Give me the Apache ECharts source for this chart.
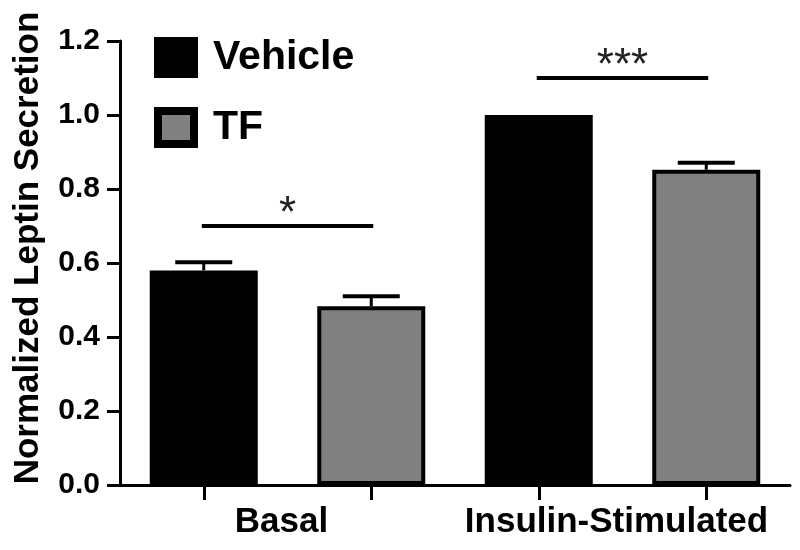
<!DOCTYPE html>
<html>
<head>
<meta charset="utf-8">
<script src="https://cdn.jsdelivr.net/npm/echarts@6/dist/echarts.min.js"></script>
<style>html,body{margin:0;padding:0;background:#fff}#c{width:800px;height:550px}</style>
</head>
<body>
<div id="c"></div>
<script>
// ---- data ----
var barCategories = ['Basal Vehicle', 'Basal TF', 'Insulin Vehicle', 'Insulin TF'];
var groupLabels = ['Basal', 'Insulin-Stimulated'];
var seriesNames = ['Vehicle', 'TF'];
var vehicleValues = [0.58, null, 1.0, null];
var tfValues = [null, 0.483, null, 0.852];
var vehicleErr = [0.022, null, 0, null];
var tfErr = [null, 0.027, null, 0.019];
var sigPairs = [[0, 1], [2, 3]];
var sigLevels = [0.70, 1.10];
var sigLabels = ['*', '***'];
var yTicks = [0, 0.2, 0.4, 0.6, 0.8, 1.0, 1.2];

var FONT = 'Liberation Sans, Arial, sans-serif';

function errData(vals, errs) {
  var out = [];
  for (var i = 0; i < vals.length; i++) {
    if (vals[i] != null && errs[i]) out.push([i, vals[i], vals[i] + errs[i]]);
  }
  return out;
}
var errorData = errData(vehicleValues, vehicleErr).concat(errData(tfValues, tfErr));
var sigData = sigPairs.map(function (p, i) { return [p[0], p[1], sigLevels[i]]; });

var chart = echarts.init(document.getElementById('c'), null, { renderer: 'canvas' });
chart.setOption({
  animation: false,
  backgroundColor: '#fff',
  grid: { left: 120, right: 10, top: 41, bottom: 65, containLabel: false },
  legend: {
    orient: 'vertical',
    left: 149, top: 32,
    itemWidth: 36, itemHeight: 33, itemGap: 29,
    icon: 'rect',
    textStyle: { fontFamily: FONT, fontSize: 41, fontWeight: 'bold', color: '#000', padding: [0, 0, 0, 14] },
    data: [
      { name: 'Vehicle', itemStyle: { color: '#000', borderColor: '#000', borderWidth: 8 } },
      { name: 'TF', itemStyle: { color: '#808080', borderColor: '#000', borderWidth: 8 } }
    ]
  },
  xAxis: [{
    type: 'category',
    data: barCategories,
    axisLine: { lineStyle: { color: '#000', width: 3 } },
    axisTick: { show: true, interval: 0, alignWithLabel: true, length: 15, lineStyle: { color: '#000', width: 3 } },
    axisLabel: { show: true, interval: 0, formatter: function () { return ''; } },
    splitLine: { show: false }
  }, {
    type: 'category',
    data: groupLabels,
    position: 'bottom',
    axisLine: { show: false },
    axisTick: { show: false },
    axisLabel: { interval: 0, hideOverlap: false, margin: 20, fontFamily: FONT, fontSize: 35, fontWeight: 'bold', color: '#000', padding: [0, 12, 0, 0] },
    splitLine: { show: false }
  }],
  yAxis: {
    type: 'value',
    min: 0, max: 1.2, interval: 0.2,
    name: 'Normalized Leptin Secretion',
    nameLocation: 'middle',
    nameGap: 74,
    nameTextStyle: { fontFamily: FONT, fontSize: 35, fontWeight: 'bold', color: '#000', padding: [0, 0, 0, 30] },
    axisLine: { show: true, lineStyle: { color: '#000', width: 3 } },
    axisTick: { show: true, length: 13, lineStyle: { color: '#000', width: 3 } },
    axisLabel: {
      margin: 20, fontFamily: FONT, fontSize: 30, fontWeight: 'bold', color: '#000',
      formatter: function (v) { return v.toFixed(1); }
    },
    splitLine: { show: false }
  },
  series: [{
    name: seriesNames[0], type: 'bar', xAxisIndex: 0, barWidth: 108, barGap: '-100%',
    data: vehicleValues,
    itemStyle: { color: '#000', borderColor: '#000', borderWidth: 4 }
  }, {
    name: seriesNames[1], type: 'bar', xAxisIndex: 0, barWidth: 108, barGap: '-100%',
    data: tfValues,
    itemStyle: { color: '#808080', borderColor: '#000', borderWidth: 4 }
  }, {
    name: 'err', type: 'custom', xAxisIndex: 0, z: 5,
    data: errorData,
    renderItem: function (params, api) {
      var base = api.coord([api.value(0), api.value(1)]);
      var top = api.coord([api.value(0), api.value(2)]);
      var hw = 28.5;
      return {
        type: 'group',
        children: [
          { type: 'line', shape: { x1: top[0], y1: base[1], x2: top[0], y2: top[1] }, style: { stroke: '#000', lineWidth: 3 } },
          { type: 'line', shape: { x1: top[0] - hw, y1: top[1], x2: top[0] + hw, y2: top[1] }, style: { stroke: '#000', lineWidth: 4 } }
        ]
      };
    }
  }, {
    name: 'sig', type: 'custom', xAxisIndex: 0, z: 5,
    data: sigData,
    renderItem: function (params, api) {
      var a = api.coord([api.value(0), api.value(2)]);
      var b = api.coord([api.value(1), api.value(2)]);
      return {
        type: 'group',
        children: [
          { type: 'line', shape: { x1: a[0], y1: a[1], x2: b[0], y2: b[1] }, style: { stroke: '#000', lineWidth: 4, lineCap: 'square' } },
          { type: 'text', style: { text: sigLabels[params.dataIndex], x: (a[0] + b[0]) / 2, y: a[1] - 11, align: 'center', verticalAlign: 'middle', fontFamily: FONT, fontSize: 44, fill: '#222' } }
        ]
      };
    }
  }]
});
</script>
</body>
</html>
